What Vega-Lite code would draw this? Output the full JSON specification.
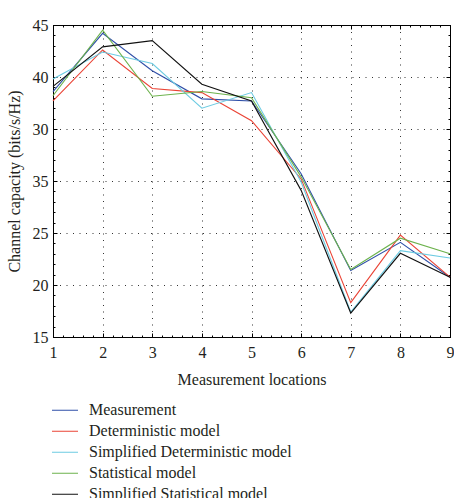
{
  "$schema": "https://vega.github.io/schema/vega-lite/v6.json",
  "width": 397,
  "height": 312,
  "autosize": {"type": "none"},
  "padding": {"left": 53, "top": 25, "right": 4, "bottom": 161},
  "config": {
    "font": "Liberation Serif, Times New Roman, serif",
    "view": {"stroke": "#000", "strokeWidth": 1},
    "axis": {
      "domainColor": "#000",
      "tickColor": "#000",
      "labelColor": "#231f20",
      "titleColor": "#231f20",
      "labelFont": "Liberation Serif, Times New Roman, serif",
      "titleFont": "Liberation Serif, Times New Roman, serif",
      "labelFontSize": 16,
      "titleFontSize": 16,
      "titleFontWeight": "normal",
      "labelOverlap": false,
      "labelBound": false,
      "labelFlush": false
    },
    "legend": {
      "labelFont": "Liberation Serif, Times New Roman, serif",
      "labelFontSize": 16,
      "labelColor": "#231f20",
      "labelLimit": 400
    }
  },
  "data": {
    "values": [
      {"loc": 1, "model": "Measurement", "cap": 38.6},
      {"loc": 2, "model": "Measurement", "cap": 44.2},
      {"loc": 3, "model": "Measurement", "cap": 40.6},
      {"loc": 4, "model": "Measurement", "cap": 37.9},
      {"loc": 5, "model": "Measurement", "cap": 37.7},
      {"loc": 6, "model": "Measurement", "cap": 30.7},
      {"loc": 7, "model": "Measurement", "cap": 21.4},
      {"loc": 8, "model": "Measurement", "cap": 24.1},
      {"loc": 9, "model": "Measurement", "cap": 20.75},
      {"loc": 1, "model": "Deterministic model", "cap": 37.7},
      {"loc": 2, "model": "Deterministic model", "cap": 42.6},
      {"loc": 3, "model": "Deterministic model", "cap": 38.9},
      {"loc": 4, "model": "Deterministic model", "cap": 38.5},
      {"loc": 5, "model": "Deterministic model", "cap": 35.8},
      {"loc": 6, "model": "Deterministic model", "cap": 30.2},
      {"loc": 7, "model": "Deterministic model", "cap": 18.3},
      {"loc": 8, "model": "Deterministic model", "cap": 24.8},
      {"loc": 9, "model": "Deterministic model", "cap": 20.75},
      {"loc": 1, "model": "Simplified Deterministic model", "cap": 39.8},
      {"loc": 2, "model": "Simplified Deterministic model", "cap": 42.4},
      {"loc": 3, "model": "Simplified Deterministic model", "cap": 41.3},
      {"loc": 4, "model": "Simplified Deterministic model", "cap": 37.0},
      {"loc": 5, "model": "Simplified Deterministic model", "cap": 38.5},
      {"loc": 6, "model": "Simplified Deterministic model", "cap": 29.9},
      {"loc": 7, "model": "Simplified Deterministic model", "cap": 17.4},
      {"loc": 8, "model": "Simplified Deterministic model", "cap": 23.3},
      {"loc": 9, "model": "Simplified Deterministic model", "cap": 22.6},
      {"loc": 1, "model": "Statistical model", "cap": 38.2},
      {"loc": 2, "model": "Statistical model", "cap": 44.5},
      {"loc": 3, "model": "Statistical model", "cap": 38.15},
      {"loc": 4, "model": "Statistical model", "cap": 38.6},
      {"loc": 5, "model": "Statistical model", "cap": 38.0},
      {"loc": 6, "model": "Statistical model", "cap": 30.4},
      {"loc": 7, "model": "Statistical model", "cap": 21.5},
      {"loc": 8, "model": "Statistical model", "cap": 24.5},
      {"loc": 9, "model": "Statistical model", "cap": 23.0},
      {"loc": 1, "model": "Simplified Statistical model", "cap": 39.1},
      {"loc": 2, "model": "Simplified Statistical model", "cap": 42.9},
      {"loc": 3, "model": "Simplified Statistical model", "cap": 43.5},
      {"loc": 4, "model": "Simplified Statistical model", "cap": 39.3},
      {"loc": 5, "model": "Simplified Statistical model", "cap": 37.7},
      {"loc": 6, "model": "Simplified Statistical model", "cap": 29.1},
      {"loc": 7, "model": "Simplified Statistical model", "cap": 17.3},
      {"loc": 8, "model": "Simplified Statistical model", "cap": 23.05},
      {"loc": 9, "model": "Simplified Statistical model", "cap": 20.75}
    ]
  },
  "resolve": {"axis": {"x": "independent", "y": "independent"}},
  "layer": [
    {
      "mark": {"type": "line", "strokeWidth": 1.1},
      "encoding": {
        "x": {
          "field": "loc",
          "type": "quantitative",
          "scale": {"domain": [1, 9], "nice": false},
          "axis": {
            "orient": "bottom",
            "title": "Measurement locations",
            "titlePadding": 9,
            "values": [1, 1.2, 1.4, 1.6, 1.8, 2, 2.2, 2.4, 2.6, 2.8, 3, 3.2, 3.4, 3.6, 3.8, 4, 4.2, 4.4, 4.6, 4.8, 5, 5.2, 5.4, 5.6, 5.8, 6, 6.2, 6.4, 6.6, 6.8, 7, 7.2, 7.4, 7.6, 7.8, 8, 8.2, 8.4, 8.6, 8.8, 9],
            "labelExpr": "abs(datum.value - round(datum.value)) < 0.001 ? format(datum.value, 'd') : ''",
            "labelPadding": 11,
            "tickSize": {"condition": {"test": "abs(datum.value - round(datum.value)) < 0.001", "value": -4}, "value": -2},
            "grid": true,
            "gridColor": "#000",
            "gridDash": [1, 5.5],
            "gridOpacity": {"condition": {"test": "abs(datum.value - round(datum.value)) < 0.001", "value": 0.8}, "value": 0}
          }
        },
        "y": {
          "field": "cap",
          "type": "quantitative",
          "scale": {"domain": [15, 45], "nice": false, "zero": false},
          "axis": {
            "orient": "left",
            "title": "Channel capacity (bits/s/Hz)",
            "titlePadding": 10,
            "values": [15, 16, 17, 18, 19, 20, 21, 22, 23, 24, 25, 26, 27, 28, 29, 30, 31, 32, 33, 34, 35, 36, 37, 38, 39, 40, 41, 42, 43, 44, 45],
            "labelExpr": "datum.value % 5 === 0 ? (datum.value === 35 ? '30' : datum.value === 30 ? '35' : datum.label) : ''",
            "labelPadding": 9,
            "tickSize": {"condition": {"test": "datum.value % 5 === 0", "value": -4}, "value": -2},
            "grid": true,
            "gridColor": "#000",
            "gridDash": [1, 5.5],
            "gridOpacity": {"condition": {"test": "datum.value % 5 === 0", "value": 0.8}, "value": 0}
          }
        },
        "color": {
          "field": "model",
          "type": "nominal",
          "sort": ["Measurement", "Deterministic model", "Simplified Deterministic model", "Statistical model", "Simplified Statistical model"],
          "scale": {
            "domain": ["Measurement", "Deterministic model", "Simplified Deterministic model", "Statistical model", "Simplified Statistical model"],
            "range": ["#2f4fa8", "#ea4335", "#6ccbe2", "#6cb24c", "#111111"]
          },
          "legend": {
            "title": null,
            "orient": "none",
            "legendX": -2,
            "legendY": 375,
            "direction": "vertical",
            "symbolType": "stroke",
            "symbolSize": 676,
            "symbolStrokeWidth": 1.1,
            "labelOffset": 10,
            "clipHeight": 20.5,
            "rowPadding": 0
          }
        }
      }
    },
    {
      "mark": {"type": "line", "opacity": 0},
      "encoding": {
        "x": {
          "field": "loc",
          "type": "quantitative",
          "axis": {
            "orient": "top",
            "title": null,
            "labels": false,
            "values": [1, 1.2, 1.4, 1.6, 1.8, 2, 2.2, 2.4, 2.6, 2.8, 3, 3.2, 3.4, 3.6, 3.8, 4, 4.2, 4.4, 4.6, 4.8, 5, 5.2, 5.4, 5.6, 5.8, 6, 6.2, 6.4, 6.6, 6.8, 7, 7.2, 7.4, 7.6, 7.8, 8, 8.2, 8.4, 8.6, 8.8, 9],
            "tickSize": {"condition": {"test": "abs(datum.value - round(datum.value)) < 0.001", "value": -4}, "value": -2},
            "grid": false
          }
        },
        "y": {
          "field": "cap",
          "type": "quantitative",
          "axis": {
            "orient": "right",
            "title": null,
            "labels": false,
            "values": [15, 16, 17, 18, 19, 20, 21, 22, 23, 24, 25, 26, 27, 28, 29, 30, 31, 32, 33, 34, 35, 36, 37, 38, 39, 40, 41, 42, 43, 44, 45],
            "tickSize": {"condition": {"test": "datum.value % 5 === 0", "value": -4}, "value": -2},
            "grid": false
          }
        },
        "detail": {"field": "model", "type": "nominal"}
      }
    }
  ]
}
